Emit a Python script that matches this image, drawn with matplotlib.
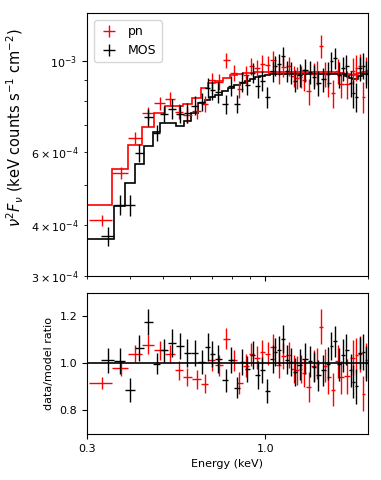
"""
Spectrum plot: nu^2 F_nu for pn and MOS, with data/model ratio panel below.
"""

import matplotlib
matplotlib.use("Agg")
import matplotlib.pyplot as plt
import matplotlib.ticker as mticker
import numpy as np

matplotlib.rcParams.update({
    "font.family":     "DejaVu Sans",
    "font.size":       8,
    "axes.labelsize":  8,
    "xtick.labelsize": 8,
    "ytick.labelsize": 8,
    "legend.fontsize": 9,
})

# ── MOS (black) ──────────────────────────────────────────────────────────────
mos_energy = [0.345, 0.374, 0.402, 0.427, 0.454, 0.481, 0.504, 0.533, 0.562,
              0.591, 0.620, 0.650, 0.681, 0.700, 0.725, 0.765, 0.791, 0.825,
              0.857, 0.882, 0.918, 0.950, 0.980, 1.01, 1.05, 1.07, 1.10, 1.13,
              1.16, 1.19, 1.22, 1.26, 1.31, 1.35, 1.39, 1.425, 1.48, 1.53,
              1.56, 1.60, 1.65, 1.69, 1.73, 1.78, 1.81, 1.85, 1.90, 1.94, 1.98]
mos_ratio = [1.013, 1.010, 0.886, 1.065, 1.175, 0.998, 1.055, 1.086, 1.072,
             1.045, 1.044, 1.006, 1.069, 1.040, 1.020, 0.928, 1.013, 0.897,
             1.006, 0.977, 1.034, 0.952, 0.973, 0.883, 1.020, 1.048, 1.055,
             1.104, 1.016, 1.006, 0.963, 0.995, 1.020, 1.008, 0.985, 0.949,
             0.970, 0.999, 1.073, 1.094, 0.996, 1.034, 1.058, 0.970, 0.921,
             0.903, 1.044, 1.048, 1.000]
mos_ratio_err = [0.054, 0.055, 0.051, 0.054, 0.056, 0.045, 0.050, 0.060, 0.055,
                 0.060, 0.055, 0.050, 0.060, 0.055, 0.060, 0.050, 0.055, 0.045,
                 0.055, 0.055, 0.060, 0.060, 0.055, 0.050, 0.060, 0.060, 0.060,
                 0.060, 0.060, 0.060, 0.060, 0.065, 0.065, 0.065, 0.065, 0.065,
                 0.065, 0.070, 0.060, 0.065, 0.070, 0.070, 0.065, 0.070, 0.070,
                 0.075, 0.070, 0.075, 0.075]
mos_model = [3.70e-4, 4.43e-4, 5.04e-4, 5.61e-4, 6.22e-4, 6.70e-4, 7.05e-4,
             7.05e-4, 6.95e-4, 7.16e-4, 7.46e-4, 7.90e-4, 8.05e-4, 8.15e-4,
             8.25e-4, 8.45e-4, 8.60e-4, 8.75e-4, 8.85e-4, 8.95e-4, 9.05e-4,
             9.12e-4, 9.20e-4, 9.25e-4, 9.28e-4, 9.30e-4, 9.30e-4, 9.30e-4,
             9.30e-4, 9.30e-4, 9.30e-4, 9.30e-4, 9.30e-4, 9.30e-4, 9.30e-4,
             9.30e-4, 9.30e-4, 9.30e-4, 9.30e-4, 9.30e-4, 9.30e-4, 9.28e-4,
             9.20e-4, 9.10e-4, 9.05e-4, 9.05e-4, 9.20e-4, 9.30e-4, 9.30e-4]

# ── pn (red) ─────────────────────────────────────────────────────────────────
pn_energy = [0.332, 0.378, 0.416, 0.452, 0.491, 0.525, 0.559, 0.591, 0.629,
             0.665, 0.696, 0.731, 0.769, 0.807, 0.840, 0.876, 0.911, 0.946,
             0.980, 1.02, 1.05, 1.10, 1.13, 1.17, 1.21, 1.24, 1.27, 1.30,
             1.34, 1.39, 1.42, 1.456, 1.50, 1.53, 1.58, 1.63, 1.67, 1.74,
             1.81, 1.85, 1.89, 1.94, 1.98]
pn_ratio = [0.917, 0.980, 1.041, 1.079, 1.055, 1.040, 0.970, 0.942, 0.932,
            0.914, 1.013, 0.992, 1.104, 1.013, 0.917, 0.990, 1.038, 1.024,
            1.048, 1.041, 1.069, 0.992, 1.030, 1.034, 0.977, 0.970, 0.977,
            0.960, 0.900, 0.990, 0.999, 1.156, 0.990, 0.942, 0.889, 1.008,
            0.940, 0.945, 1.024, 1.034, 1.040, 0.872, 1.013]
pn_ratio_err = [0.027, 0.032, 0.035, 0.040, 0.040, 0.040, 0.040, 0.040, 0.040,
                0.040, 0.045, 0.045, 0.045, 0.045, 0.045, 0.050, 0.050, 0.050,
                0.050, 0.050, 0.055, 0.055, 0.055, 0.055, 0.060, 0.060, 0.060,
                0.060, 0.065, 0.065, 0.065, 0.075, 0.070, 0.070, 0.070, 0.070,
                0.070, 0.075, 0.075, 0.075, 0.075, 0.076, 0.075]
pn_model = [4.47e-4, 5.45e-4, 6.25e-4, 6.92e-4, 7.48e-4, 7.78e-4, 7.76e-4,
            7.85e-4, 8.12e-4, 8.60e-4, 8.85e-4, 8.95e-4, 9.10e-4, 9.25e-4,
            9.30e-4, 9.33e-4, 9.35e-4, 9.38e-4, 9.40e-4, 9.40e-4, 9.40e-4,
            9.40e-4, 9.40e-4, 9.40e-4, 9.40e-4, 9.38e-4, 9.38e-4, 9.38e-4,
            9.38e-4, 9.38e-4, 9.38e-4, 9.38e-4, 9.38e-4, 9.38e-4, 9.38e-4,
            9.36e-4, 9.33e-4, 9.28e-4, 9.25e-4, 9.30e-4, 9.35e-4, 9.38e-4,
            9.38e-4]

MOS_EDGES_LIMITS = (0.329, 2.02)
PN_EDGES_LIMITS = (0.305, 2.02)

XLIM = (0.3, 2.0)


def _bin_edges(centers, limits):
    c = np.asarray(centers, dtype=float)
    mids = np.sqrt(c[:-1] * c[1:])
    return np.r_[limits[0], mids, limits[1]]


def _draw(ax_top, ax_bot, energy, ratio, ratio_err, model, limits, color, label):
    e = np.asarray(energy, dtype=float)
    r = np.asarray(ratio, dtype=float)
    re = np.asarray(ratio_err, dtype=float)
    m = np.asarray(model, dtype=float)
    edges = _bin_edges(e, limits)
    xerr = [e - edges[:-1], edges[1:] - e]

    flux = m * r
    flux_err = m * re

    ax_top.errorbar(e, flux, xerr=xerr, yerr=flux_err, fmt="none",
                    ecolor=color, elinewidth=1.0, capsize=0, label=label)
    model_edges = np.r_[0.29, edges[1:]]
    ax_top.stairs(m, model_edges, baseline=None, color=color, linewidth=1.2)

    ax_bot.errorbar(e, r, xerr=xerr, yerr=re, fmt="none",
                    ecolor=color, elinewidth=1.0, capsize=0)


def main() -> None:
    fig = plt.figure(figsize=(3.81, 4.80), dpi=100)
    ax_top = fig.add_axes([0.2283, 0.425, 0.7375, 0.5485])
    ax_bot = fig.add_axes([0.2283, 0.0958, 0.7375, 0.2944])

    _draw(ax_top, ax_bot, pn_energy, pn_ratio, pn_ratio_err, pn_model,
          PN_EDGES_LIMITS, "red", "pn")
    _draw(ax_top, ax_bot, mos_energy, mos_ratio, mos_ratio_err, mos_model,
          MOS_EDGES_LIMITS, "black", "MOS")

    # Üst panel
    ax_top.set_xscale("log")
    ax_top.set_yscale("log")
    ax_top.set_xlim(*XLIM)
    ax_top.set_ylim(3e-4, 1.31e-3)
    ax_top.xaxis.set_major_formatter(mticker.NullFormatter())
    ax_top.xaxis.set_minor_formatter(mticker.NullFormatter())
    ax_top.set_ylabel(r"$\nu^2 F_\nu$ (keV counts s$^{-1}$ cm$^{-2}$)",
                      fontsize=10.5)
    ax_top.yaxis.set_label_coords(-0.218, 0.565)
    ax_top.legend(loc="upper left", handlelength=1.5, borderaxespad=0.6)

    # Alt panel
    ax_bot.axhline(1.0, color="black", linewidth=1.2)
    ax_bot.set_xscale("log")
    ax_bot.set_xlim(*XLIM)
    ax_bot.set_ylim(0.7, 1.3)
    ax_bot.xaxis.set_major_locator(mticker.FixedLocator([0.3, 1.0]))
    ax_bot.xaxis.set_major_formatter(mticker.FixedFormatter(["0.3", "1.0"]))
    ax_bot.xaxis.set_minor_locator(mticker.NullLocator())
    ax_bot.set_yticks([0.8, 1.0, 1.2])
    ax_bot.set_xlabel("Energy (keV)")
    ax_bot.set_ylabel("data/model ratio")

    fig.savefig("out.png", dpi=100)
    plt.close(fig)


if __name__ == "__main__":
    main()
